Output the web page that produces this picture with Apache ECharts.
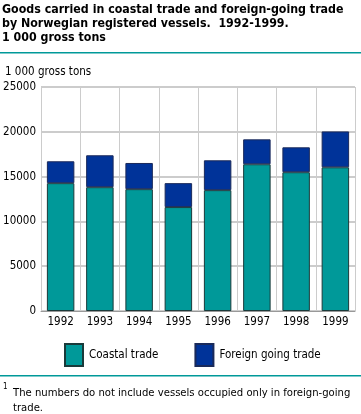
<!DOCTYPE html>
<html><head><meta charset="utf-8">
<script src="https://cdn.jsdelivr.net/npm/echarts@6/dist/echarts.min.js"></script>
<style>html,body{margin:0;padding:0;background:#fff}#c{width:361px;height:414px}</style>
</head><body><div id="c"></div>
<script>
var categories = ['1992','1993','1994','1995','1996','1997','1998','1999'];
var coastal = [14270, 13820, 13600, 11600, 13490, 16380, 15490, 16040];
var foreign = [2440, 3560, 2920, 2670, 3330, 2780, 2780, 4000];
var yTicks = [0, 5000, 10000, 15000, 20000, 25000];
var F = '"DejaVu Sans Condensed", "DejaVu Sans", sans-serif';
var chart = echarts.init(document.getElementById('c'), null, {renderer:'canvas'});
chart.setOption({
  animation:false,
  grid:{left:41, right:6, top:87, bottom:103, containLabel:false, outerBoundsMode:'none'},
  legend:{left:64, top:343, padding:0, itemWidth:18, itemHeight:22, itemGap:36,
    textStyle:{fontFamily:F, fontSize:11.5, color:'#000', padding:[0,0,0,1]},
    data:[{name:'Coastal trade', icon:'rect'},{name:'Foreign going trade', icon:'rect'}]},
  xAxis:{type:'category', data:categories,
    axisLine:{lineStyle:{color:'#999', width:1}}, axisTick:{show:false},
    axisLabel:{fontFamily:F, fontSize:11.5, color:'#000', margin:5},
    splitLine:{show:true, lineStyle:{color:'#ccc', width:1}}},
  yAxis:{type:'value', min:yTicks[0], max:yTicks[yTicks.length-1], interval:yTicks[1]-yTicks[0],
    name:'1 000 gross tons', nameLocation:'end', nameGap:9,
    nameTextStyle:{fontFamily:F, fontSize:11.5, color:'#000', align:'left', padding:[0,0,0,-36]},
    axisLine:{show:true, lineStyle:{color:'#ccc'}}, axisTick:{show:false},
    axisLabel:{fontFamily:F, fontSize:11.5, color:'#000', margin:5, formatter:function(v){return String(v);}},
    splitLine:{lineStyle:{color:'#ccc', width:2}}},
  series:[
    {name:'Coastal trade', type:'bar', stack:'t', data:coastal, barCategoryGap:'30%',
      itemStyle:{color:'#009999', borderColor:'#1a3a3a', borderWidth:1}},
    {name:'Foreign going trade', type:'bar', stack:'t', data:foreign,
      itemStyle:{color:'#003399', borderColor:'#1a2a5a', borderWidth:1}}
  ],
  graphic:[
    {type:'text', left:2, top:3, style:{text:'Goods carried in coastal trade and foreign-going trade\nby Norwegian registered vessels.  1992-1999.\n1 000 gross tons', font:'bold 12.3px '+F, fill:'#000', lineHeight:14}},
    {type:'rect', shape:{x:0, y:52, width:361, height:1.5}, style:{fill:'#009999'}},
    {type:'rect', shape:{x:0, y:375, width:361, height:1.5}, style:{fill:'#009999'}},
    {type:'text', left:3, top:383, style:{text:'1', font:'8px '+F, fill:'#000'}},
    {type:'text', left:13, top:386, style:{text:'The numbers do not include vessels occupied only in foreign-going\ntrade.', font:'11.2px '+F, fill:'#000', lineHeight:15}}
  ]
});
</script></body></html>
